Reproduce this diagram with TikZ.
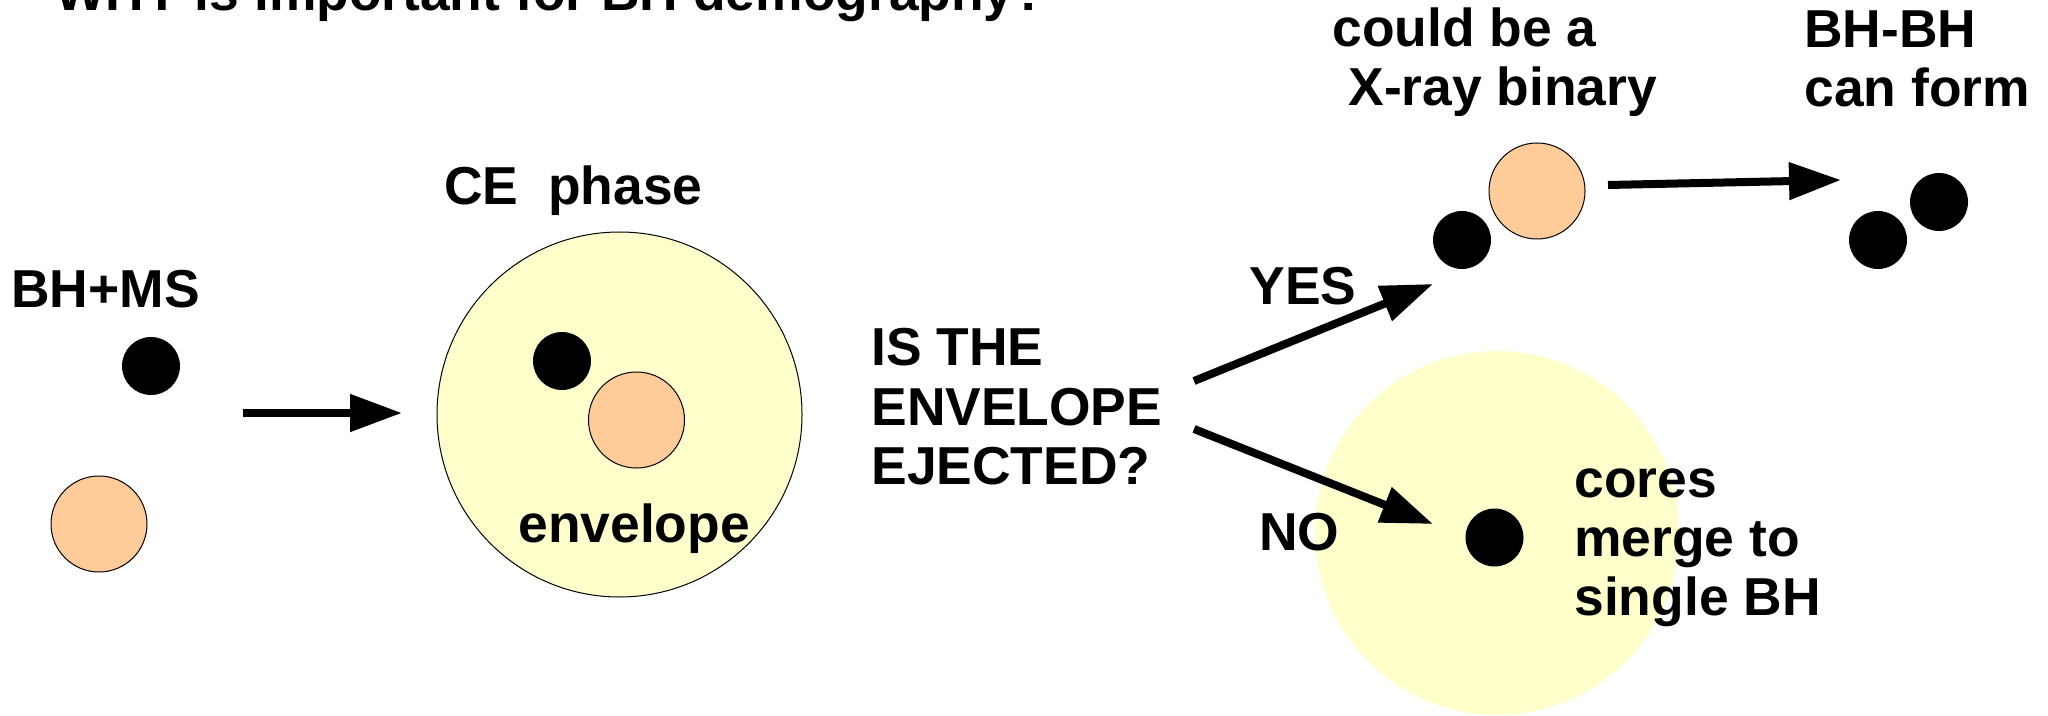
\documentclass[tikz,border=0pt]{standalone}
\usepackage{fontspec}
\setmainfont{Liberation Sans}
\usetikzlibrary{arrows.meta}
\definecolor{envyellow}{HTML}{FFFFCC}
\definecolor{starorange}{HTML}{FFCC99}
\begin{document}
\begin{tikzpicture}[x=0.5pt,y=-0.5pt,
  lbl/.style={anchor=base west, inner sep=0pt, font=\fontsize{26.7pt}{30pt}\selectfont\bfseries},
  bh/.style={circle, fill=black, inner sep=0pt, minimum size=29pt},
  ms/.style={circle, fill=starorange, draw=black, line width=0.5pt, inner sep=0pt, minimum size=48pt},
  envcircle/.style={circle, fill=envyellow, inner sep=0pt, minimum size=182.5pt},
  arr/.style={line width=4pt, -{Triangle[length=26pt,width=18pt]}}]
\clip (0,0) rectangle (2048,716);
\fill[white] (0,0) rectangle (2048,716);

% title (cut off at top)
\node[lbl] (title) at (55,11) {WHY is important for BH demography?};

% BH + MS
\node[lbl] (bhms) at (11,307) {BH+MS};
\node[bh] (bh1) at (151,366) {};
\node[ms] (ms1) at (99,524) {};

% CE phase
\node[lbl] (cephase) at (444,205) {CE~~phase};
\node[envcircle, draw=black, line width=0.5pt] (ce) at (619.5,414.5) {};
\node[bh] (bh2) at (562,361) {};
\node[ms] (ms2) at (636.5,420) {};
\node[lbl] (envlbl) at (518,542) {envelope};

% question
\node[lbl] (q1) at (871,365) {IS THE};
\node[lbl] (q2) at (871,425) {ENVELOPE};
\node[lbl] (q3) at (871,484) {EJECTED?};

% merged result (yellow envelope, no outline)
\node[envcircle, minimum size=182pt] (merge) at (1497,533) {};
\node[bh] (bh3) at (1494.5,537.5) {};
\node[lbl] (m1) at (1574,497) {cores};
\node[lbl] (m2) at (1574,556) {merge to};
\node[lbl] (m3) at (1574,615) {single BH};

% X-ray binary
\node[lbl] (x1) at (1332,47) {could be a};
\node[lbl] (x2) at (1348,106) {X-ray binary};
\node[bh] (bh4) at (1462,240) {};
\node[ms] (ms3) at (1537,191) {};

% BH-BH
\node[lbl] (b1) at (1804,48) {BH-BH};
\node[lbl] (b2) at (1804,107) {can form};
\node[bh] (bh5) at (1939,202) {};
\node[bh] (bh6) at (1878,240) {};

% labels
\node[lbl] (yes) at (1249,305) {YES};
\node[lbl] (no) at (1259,550) {NO};

% arrow end points
\coordinate (a1s) at (243,413);
\coordinate (a1e) at (402,413);
\coordinate (a2s) at (1194,381);
\coordinate (a2e) at (1433,284);
\coordinate (a3s) at (1194,429);
\coordinate (a3e) at (1433,524);
\coordinate (a4s) at (1608,185);
\coordinate (a4e) at (1841,180);

\draw[arr] (a1s) -- (a1e);
\draw[arr] (a2s) -- (a2e);
\draw[arr] (a3s) -- (a3e);
\draw[arr] (a4s) -- (a4e);
\end{tikzpicture}
\end{document}
